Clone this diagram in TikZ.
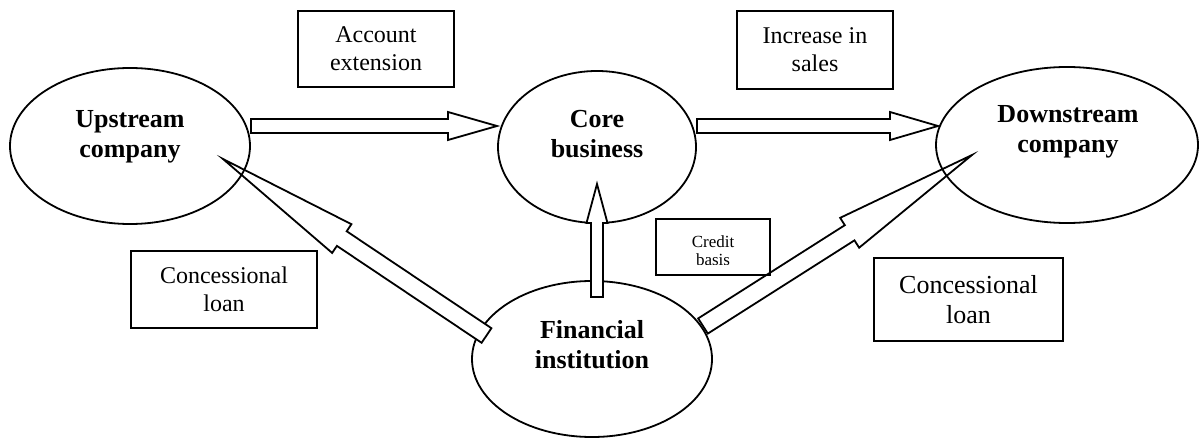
\documentclass[tikz,border=0pt]{standalone}
\usepackage{fontspec}
\setmainfont{Liberation Serif}
\usetikzlibrary{calc}
\usetikzlibrary{shapes}
\usetikzlibrary{positioning}

\newcommand{\blockarrow}[5]{%
\coordinate (neck) at ($(#2)!#5!(#1)$);
\draw [flow] ($(#1)!#3!90:(#2)$) -- ($(neck)!#3!90:(#2)$) -- ($(neck)!#4!90:(#2)$) -- (#2) -- ($(neck)!#4!-90:(#2)$) -- ($(neck)!#3!-90:(#2)$) -- ($(#1)!#3!-90:(#2)$) -- cycle;}

\begin{document}
\begin{tikzpicture}[x=1pt,y=-1pt,line join=miter,
firm/.style={draw,ellipse,line width=1.8pt,inner sep=0pt},
firmtext/.style={align=center,font=\fontsize{26}{30}\selectfont\bfseries},
tag/.style={draw,line width=1.8pt,align=center,inner sep=0pt,font=\fontsize{24}{28}\selectfont},
flow/.style={fill=white,line width=1.8pt}]
\useasboundingbox (0,0) rectangle (1199,438);
\node[firm,minimum width=198pt,minimum height=152pt] (core) at (597,147) {};
\node[firm,minimum width=240pt,minimum height=156pt] (fin) at (592,359) {};
\coordinate (acct from) at (251,126);
\coordinate (acct to) at (497,126);
\coordinate (sales from) at (697,126);
\coordinate (sales to) at (938,126);
\coordinate (credit from) at (597,297);
\coordinate (credit to) at (597,184);
\coordinate (loan up from) at (486.5,335.5);
\coordinate (loan up to) at (223,159);
\coordinate (loan down from) at (703,326);
\coordinate (loan down to) at (972,155);
\blockarrow{acct from}{acct to}{7pt}{14pt}{49pt}
\blockarrow{sales from}{sales to}{7pt}{14pt}{48pt}
\blockarrow{credit from}{credit to}{6pt}{10.5pt}{39pt}
\blockarrow{loan up from}{loan up to}{8.8pt}{17.3pt}{143pt}
\blockarrow{loan down from}{loan down to}{9pt}{17.7pt}{145pt}
\node[firm,minimum width=240pt,minimum height=156pt] (up) at (130,146) {};
\node[firm,minimum width=262pt,minimum height=156pt] (down) at (1067,145) {};
\node[firmtext] (up text) at (130,137) {Upstream\\company};
\node[firmtext] (core text) at (597,134) {Core\\business};
\node[firmtext] (down text) at (1068,132) {Downstream\\company};
\node[firmtext] (fin text) at (592,345) {Financial\\institution};
\node[tag,minimum width=156pt,minimum height=76pt] (acct) at (376,49) {Account\\extension};
\node[tag,minimum width=156pt,minimum height=78pt] (sales) at (815,50) {Increase in\\sales};
\node[tag,minimum width=186pt,minimum height=77pt] (loan up) at (224,289.5) {Concessional\\loan};
\node[tag,minimum width=189pt,minimum height=83pt,font=\fontsize{26}{30}\selectfont] (loan down) at (968.5,299.5) {Concessional\\loan};
\node[tag,minimum width=114pt,minimum height=56pt] (credit) at (713,247) {};
\begin{scope}
\clip (credit.north west) rectangle ($(credit.south east)+(0,-11.5)$);
\node[align=center,font=\fontsize{17}{18}\selectfont] (credit text) at (713,251) {Credit\\basis};
\end{scope}
\end{tikzpicture}
\end{document}
